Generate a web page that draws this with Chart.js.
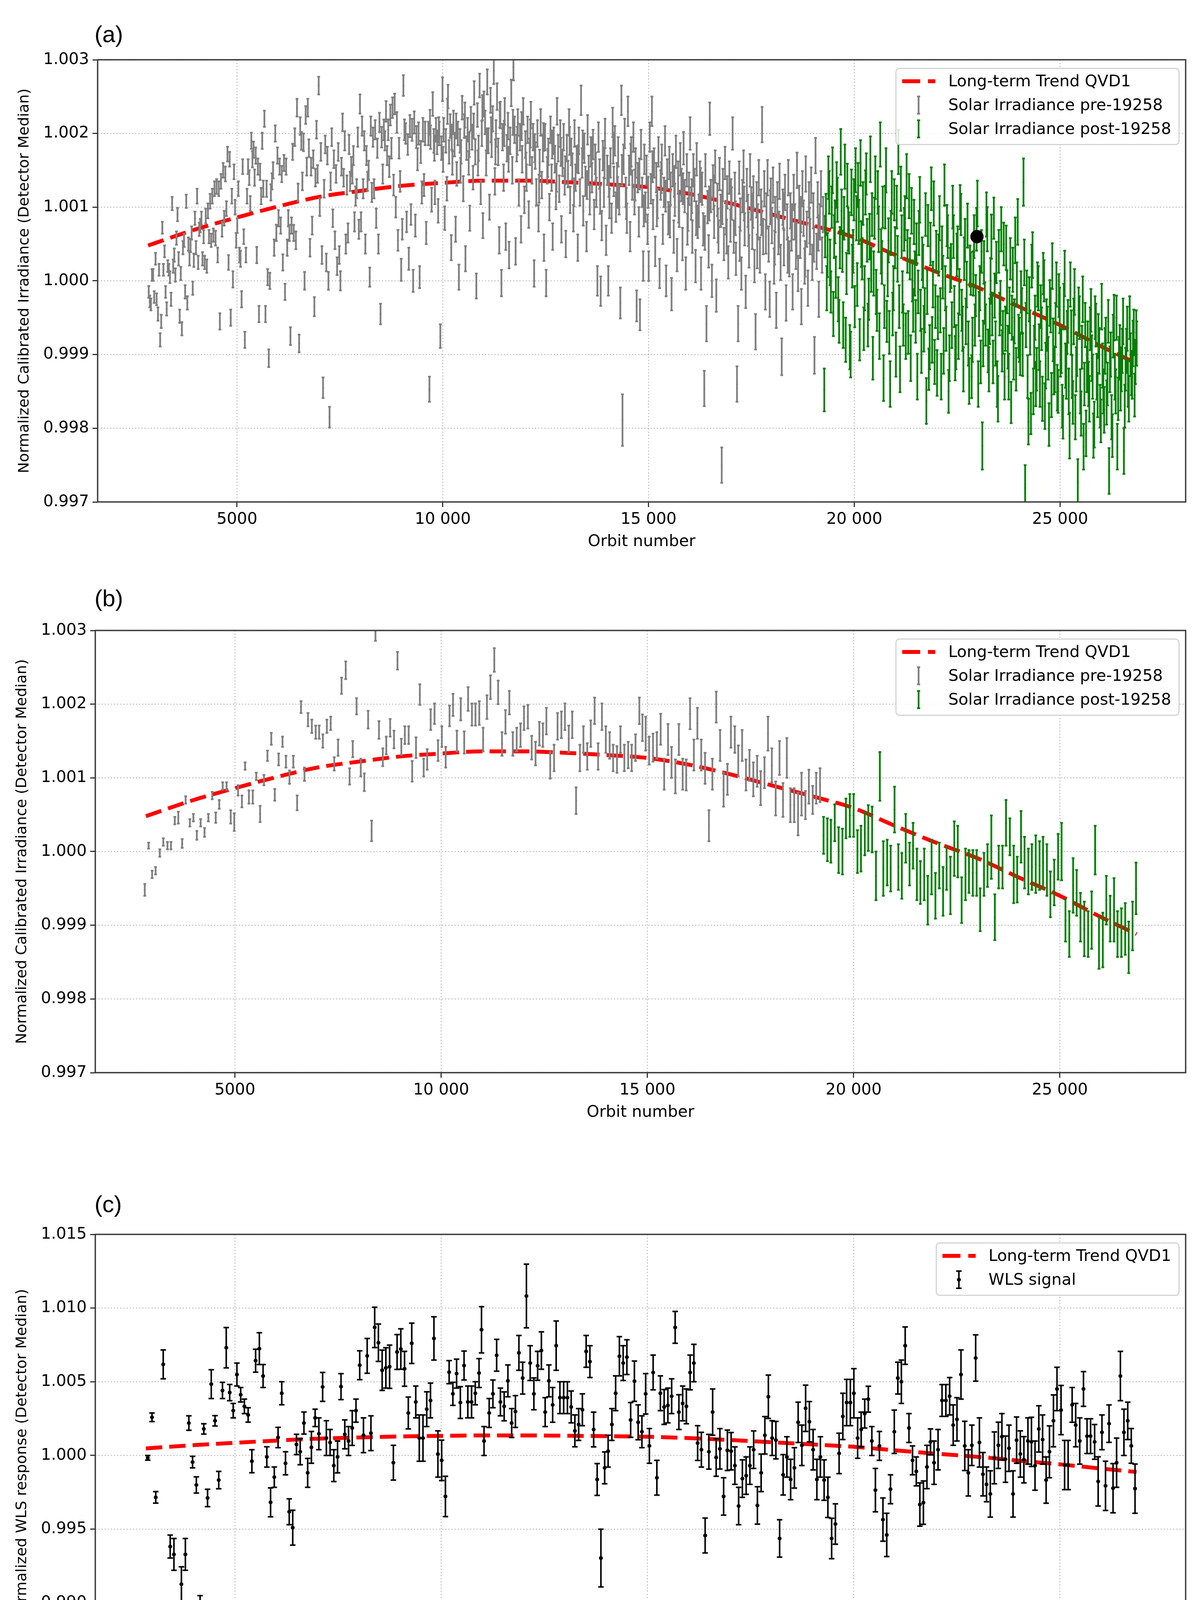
<!DOCTYPE html>
<html>
<head>
<meta charset="utf-8">
<title>QVD1 long-term trend</title>
<script src="https://cdn.jsdelivr.net/npm/chart.js@4.4.1/dist/chart.umd.min.js"></script>
<style>
  html, body { margin: 0; padding: 0; background: #fff; }
  #page { position: relative; width: 3083px; height: 4472px; overflow: hidden; background: #fff; }
  canvas { position: absolute; left: 0; }
  .tag { position: absolute; left: 242px; font-family: "Liberation Sans", Arial, sans-serif; font-size: 60px; line-height: 60px; color: #000; }
</style>
</head>
<body>
<div id="page">
  <canvas id="chartA" width="3083" height="1425" style="top:0px"></canvas>
  <canvas id="chartB" width="3083" height="1426" style="top:1460px"></canvas>
  <canvas id="chartC" width="3083" height="1422" style="top:3010px"></canvas>
  <div class="tag" style="top:58px">(a)</div>
  <div class="tag" style="top:1502px">(b)</div>
  <div class="tag" style="top:3053px">(c)</div>
</div>
<script>
// error bar half-lengths below are stored in units of 1e-5
const ERR_UNIT = 1e-5;

const xTicks = [5000, 10000, 15000, 20000, 25000];
const xTickLabels = ['5000', '10 000', '15 000', '20 000', '25 000'];
const irrTicks = [0.997, 0.998, 0.999, 1.000, 1.001, 1.002, 1.003];
const wlsTicks = [0.985, 0.990, 0.995, 1.000, 1.005, 1.010, 1.015];

// long-term trend QVD1 (same curve in all panels)
const trendX = [2840, 4000, 5000, 6000, 7000, 8000, 9000, 10000, 11000, 12000, 13000, 14000, 15000,
  16000, 17000, 18000, 19000, 20000, 21000, 22000, 23000, 24000, 25000, 26000, 26860];
const trendY = [1.00048, 1.00070, 1.00086, 1.00101, 1.00114, 1.00122, 1.00129, 1.00133, 1.00136, 1.00136, 1.00134, 1.00131, 1.00127,
  1.00118, 1.00105, 1.00090, 1.00075, 1.00059, 1.00035, 1.00012, 0.99991, 0.99965, 0.99940, 0.99911, 0.99888];

// ---- panel (a): single measurements ----
const aPreX = [
  2856,2882,2909,2935,2962,2988,3021,3047,3080,3106, 3133,3159,3186,3212,3239,3265,3292,3318,3345,3371,
  3398,3424,3450,3476,3503,3529,3555,3581,3608,3634, 3661,3687,3714,3740,3767,3793,3820,3846,3872,3898,
  3925,3951,3978,4004,4031,4057,4083,4109,4136,4162, 4189,4215,4241,4267,4294,4320,4347,4373,4400,4426,
  4453,4479,4505,4531,4558,4584,4611,4637,4664,4690, 4717,4743,4769,4795,4822,4848,4875,4901,4927,4953,
  4980,5006,5033,5059,5086,5112,5138,5164,5191,5217, 5244,5270,5297,5323,5349,5375,5402,5428,5455,5481,
  5508,5534,5561,5587,5613,5639,5666,5692,5719,5745, 5772,5798,5824,5850,5877,5903,5930,5956,5983,6009,
  6036,6062,6088,6114,6141,6167,6194,6220,6247,6273, 6299,6325,6352,6378,6405,6431,6458,6484,6510,6536,
  6563,6589,6616,6642,6669,6695,6721,6747,6774,6800, 6827,6853,6880,6906,6932,6958,6985,7011,7038,7064,
  7091,7117,7144,7170,7196,7222,7249,7275,7302,7328, 7354,7380,7407,7433,7460,7486,7513,7539,7565,7591,
  7618,7644,7671,7697,7724,7750,7777,7803,7829,7855, 7882,7908,7935,7961,7988,8014,8040,8066,8093,8119,
  8146,8172,8199,8225,8251,8277,8304,8330,8357,8383, 8410,8436,8462,8488,8515,8541,8568,8594,8621,8647,
  8674,8700,8726,8752,8779,8805,8832,8858,8885,8911, 8938,8964,8990,9016,9043,9069,9096,9122,9149,9175,
  9201,9227,9254,9280,9307,9333,9360,9386,9412,9438, 9465,9491,9518,9544,9571,9597,
  9650,9676,9703,9729,9756,9782,9809,9835,9862,9888, 9915,9941,9968,9994,10021,10047,10074,10100,10127,10153,
  10180,10206,10233,10259,10286,10312,10339,10365,10392,10418, 10445,10471,10498,10524,10551,10577,10604,10630,10657,10683,
  10710,10736,10763,10789,10816,10842,10869,10895,10922,10948, 10975,11001,11028,11054,11081,11107,11134,11160,11187,11213,
  11240,11266,11293,11319,11346,11372,11399,11425,11452,11478, 11505,11531,11558,11584,11611,11637,11664,11690,11717,11743,
  11770,11796,11823,11849,11876,11902,11929,11955,11982,12008, 12035,12061,12088,12114,12141,12167,12194,12220,12247,12273,
  12300,12326,12353,12379,12406,12432,12459,12485,12512,12538, 12565,12591,12618,12644,12671,12697,12724,12750,12777,12803,
  12830,12856,12883,12909,12936,12962,12989,13015,13042,13068, 13095,13121,13148,13174,13201,13227,13254,13280,13307,13333,
  13360,13386,13413,13439,13466,13492,13519,13545,13572,13598, 13625,13651,13678,13704,13731,13757,13784,13810,13837,13863,
  13890,13916,13943,13969,13996,14022,14049,14075,14102,14128, 14155,14181,14208,14234,14261,14287,14314,14340,14367,14393,
  14420,14446,14473,14499,14526,14552,14579,14605,14632,14658, 14685,14711,14738,14764,14791,14817,14844,14870,14897,14923,
  14950,14976,15003,15029,15056,15082,15109,15135,15162,15188, 15215,15241,15268,15294,15321,15347,15374,15400,15427,15453,
  15480,15506,15533,15559,15586,15612,15639,15665,15692,15718, 15745,15771,15798,15824,15851,15877,15904,15930,15957,15983,
  16010,16036,16063,16089,16116,16142,16169,16195,16222,16248, 16275,16301,16328,16354,16381,16407,16434,16460,16487,16513,
  16540,16566,16593,16619,16646,16672,16699,16725,16752,16778, 16805,16831,16858,16884,16911,16937,16964,16990,17017,17043,
  17070,17096,17123,17149,17176,17202,17229,17255,17282,17308, 17335,17361,17388,17414,17441,17467,17494,17520,17547,17573,
  17600,17626,17653,17679,17706,17732,17759,17785,17812,17838, 17865,17891,17918,17944,17971,17997,18024,18050,18077,18103,
  18130,18156,18183,18209,18236,18262,18289,18315,18342,18368, 18395,18421,18448,18474,18501,18527,18554,18580,18607,18633,
  18660,18686,18713,18739,18766,18792,18819,18845,18872,18898, 18925,18951,18978,19004,19031,19057,19084,19110,19137,19163,
  19190,19216,19243,
  9690,9796,9902,10008,10114,10220,10326,10432,10538,10644, 10750,10856,10962,11068,11174,11280,11386,11492,11598,11704,
  11810,11916,12022,12128,12234,12340,12446,12552,12658,12764, 12870,12976,13082,13188,13294,13400,13506,13612,13718,13824,
  13930,14036,14142,14248,14354,14460,14566,14672,14778,14884, 14990,15096,15202,15308,15414,15520,15626,15732,15838,15944,
  16050,16156,16262,16368,16474,16580,16686,16792,16898,17004, 17110,17216,17322,17428,17534,17640,17746,17852,17958,18064,
  18170,18276,18382,18488,18594,18700,18806,18912,19018,19124];
const aPreY = [
  0.99985,0.99972,0.99968,1.00008,1.00008,0.99978,1.00030,0.99975,0.99955,1.00015, 0.99920,0.99945,1.00072,1.00015,1.00040,0.99985,0.99962,1.00020,1.00015,1.00005,
  0.99975,1.00105,1.00020,1.00035,1.00008,1.00058,1.00090,1.00030,0.99952,1.00010, 0.99935,1.00045,1.00055,0.99985,1.00108,0.99970,1.00050,1.00030,1.00048,1.00065,
  0.99990,1.00028,1.00085,1.00045,1.00115,1.00025,1.00070,1.00075,1.00085,1.00030, 1.00060,1.00025,1.00088,1.00020,1.00095,1.00060,1.00108,1.00055,1.00115,1.00062,
  1.00125,1.00058,1.00128,1.00035,1.00125,0.99945,1.00135,1.00070,1.00150,1.00085, 1.00145,1.00098,1.00172,1.00025,1.00165,0.99950,1.00115,1.00002,1.00148,1.00100,
  1.00055,1.00075,1.00125,1.00035,1.00030,0.99975,1.00155,1.00060,0.99920,1.00035, 1.00115,1.00155,1.00140,1.00105,1.00190,1.00165,1.00178,1.00140,1.00170,1.00035,
  1.00155,0.99955,1.00148,1.00115,1.00190,1.00125,1.00220,0.99955,1.00125,1.00005, 0.99895,1.00000,1.00120,1.00135,1.00150,1.00045,1.00200,1.00065,1.00170,1.00085,
  1.00155,1.00075,1.00145,1.00025,1.00160,0.99985,1.00155,1.00045,1.00085,1.00065, 0.99925,1.00075,1.00175,1.00065,1.00195,1.00055,1.00235,1.00120,0.99915,1.00210,
  1.00190,1.00135,1.00188,1.00000,1.00225,1.00155,1.00235,1.00180,1.00045,1.00155, 1.00075,1.00165,0.99965,1.00140,1.00205,1.00145,1.00265,1.00100,1.00175,1.00035,
  0.99855,1.00125,1.00185,1.00025,1.00170,1.00000,0.99815,1.00135,1.00195,1.00085, 1.00165,1.00055,1.00145,1.00020,1.00175,1.00035,1.00000,1.00155,1.00215,1.00140,
  1.00190,1.00050,1.00130,1.00065,1.00185,1.00135,1.00155,1.00145,1.00170,1.00080, 1.00115,1.00125,1.00195,1.00070,1.00240,1.00080,1.00210,1.00125,1.00190,1.00050,
  1.00170,1.00135,1.00150,1.00005,1.00210,1.00120,1.00195,1.00125,1.00205,1.00085, 1.00180,1.00050,1.00215,0.99955,1.00195,1.00145,1.00205,1.00190,1.00230,1.00170,
  1.00205,1.00155,1.00225,1.00180,1.00235,1.00130,1.00240,1.00100,1.00215,1.00055, 1.00180,1.00135,1.00015,1.00070,1.00265,1.00205,1.00200,1.00080,1.00185,1.00030,
  1.00210,1.00090,1.00205,1.00000,1.00215,1.00075,1.00195,1.00165,1.00200,1.00005, 1.00175,1.00120,1.00205,1.00130,1.00200,1.00065,
  1.00200,0.99853,1.00195,1.00110,1.00240,1.00190,1.00120,1.00205,1.00188,1.00095, 1.00200,0.99925,1.00180,1.00260,1.00205,1.00085,1.00190,1.00125,1.00250,1.00175,
  1.00210,1.00045,1.00160,1.00215,1.00185,1.00070,1.00145,1.00200,1.00005,1.00190, 1.00175,1.00235,1.00125,1.00210,1.00030,1.00180,1.00205,1.00160,1.00085,1.00220,
  1.00195,1.00140,1.00255,1.00175,0.99993,1.00225,1.00180,1.00265,1.00120,1.00200, 1.00075,1.00240,1.00215,1.00160,1.00270,1.00190,1.00100,1.00245,1.00185,1.00220,
  1.00285,1.00135,1.00200,1.00250,1.00175,1.00055,1.00225,0.99997,1.00195,1.00140, 1.00230,1.00060,1.00180,1.00210,1.00035,1.00190,1.00255,1.00150,1.00290,1.00205,
  1.00040,1.00180,1.00215,1.00120,1.00195,1.00070,1.00165,1.00230,1.00110,1.00185, 1.00140,1.00205,1.00090,1.00175,1.00225,1.00150,1.00195,1.00010,1.00170,1.00120,
  1.00200,1.00085,1.00160,1.00215,1.00130,1.00180,1.00045,1.00195,0.99997,1.00150, 1.00175,1.00100,1.00205,1.00140,1.00060,1.00190,1.00165,1.00115,1.00230,1.00180,
  1.00125,1.00200,1.00070,1.00160,1.00195,1.00135,1.00050,1.00180,1.00145,1.00215, 1.00110,1.00175,1.00155,1.00085,1.00200,1.00140,1.00165,1.00045,1.00190,1.00120,
  1.00245,1.00160,1.00095,1.00180,1.00135,1.00060,1.00205,1.00150,1.00110,1.00175, 1.00140,1.00185,1.00090,1.00165,1.00120,1.00000,1.00195,1.00145,0.99986,1.00075,
  1.00170,1.00120,1.00200,1.00055,1.00150,1.00000,1.00105,1.00160,1.00085,1.00215, 1.00135,1.00190,1.00100,1.00140,1.00175,1.00110,0.99970,1.00245,0.99811,1.00165,
  1.00200,1.00120,1.00085,1.00230,1.00150,1.00060,1.00175,1.00130,1.00195,1.00110, 1.00160,0.99966,1.00140,1.00080,0.99954,1.00185,1.00120,1.00020,1.00165,1.00100,
  1.00150,1.00070,1.00020,1.00195,1.00125,1.00230,1.00090,1.00160,1.00040,1.00140, 1.00105,1.00175,1.00010,1.00130,1.00165,1.00070,1.00120,1.00190,1.00000,1.00145,
  1.00085,1.00160,1.00125,0.99982,1.00150,1.00060,1.00110,1.00175,1.00035,1.00140, 1.00095,1.00165,1.00130,1.00050,1.00180,1.00115,1.00010,1.00150,1.00090,1.00125,
  1.00200,1.00105,1.00060,1.00150,1.00130,1.00020,1.00165,1.00080,1.00095,1.00140, 1.00010,1.00125,1.00070,0.99854,1.00150,0.99942,1.00100,1.00040,1.00220,1.00115,
  1.00000,1.00135,1.00080,1.00155,0.99980,1.00110,1.00060,1.00145,1.00095,0.99750, 1.00130,1.00050,1.00160,1.00085,1.00120,1.00025,1.00140,1.00075,1.00105,1.00200,
  1.00060,1.00125,1.00030,0.99860,0.99942,1.00140,1.00090,1.00010,1.00115,1.00155, 1.00070,0.99985,1.00130,1.00095,1.00040,1.00150,1.00105,1.00065,1.00120,1.00020,
  0.99931,1.00110,1.00080,1.00140,1.00035,1.00100,1.00212,1.00060,1.00125,0.99985, 1.00095,1.00140,1.00050,0.99975,1.00115,1.00075,1.00130,1.00020,1.00090,0.99960,
  1.00110,1.00060,1.00135,1.00025,0.99897,1.00100,1.00045,1.00120,0.99970,1.00080, 1.00140,1.00030,1.00095,1.00065,0.99985,1.00120,1.00080,1.00040,1.00150,1.00010,
  1.00105,1.00055,0.99965,1.00125,1.00085,1.00020,1.00145,1.00070,0.99990,1.00110, 1.00060,1.00130,1.00025,1.00095,0.99899,1.00170,1.00040,1.00110,0.99975,1.00080,
  1.00125,1.00035,1.00090,
  1.00215,1.00180,1.00205,1.00165,1.00230,1.00195,1.00210,1.00150,1.00225,1.00185, 1.00210,1.00160,1.00235,1.00190,1.00205,1.00175,1.00225,1.00200,1.00165,1.00215,
  1.00190,1.00210,1.00155,1.00200,1.00180,1.00125,1.00195,1.00160,1.00185,1.00140, 1.00175,1.00150,1.00190,1.00120,1.00165,1.00185,1.00130,1.00175,1.00155,1.00110,
  1.00160,1.00135,1.00180,1.00120,1.00150,1.00105,1.00165,1.00130,1.00145,1.00095, 1.00120,1.00155,1.00095,1.00140,1.00115,1.00080,1.00135,1.00100,1.00125,1.00070,
  1.00115,1.00085,1.00130,1.00065,1.00105,1.00120,1.00075,1.00100,1.00060,1.00115, 1.00085,1.00050,1.00105,1.00070,1.00095,1.00040,1.00085,1.00060,1.00100,1.00045,
  1.00070,1.00095,1.00035,1.00080,1.00055,1.00090,1.00030,1.00075,1.00050,1.00065];
const aPreE = [
  8,8,8,8,8,8,8,8,9,8, 9,9,8,8,8,8,9,8,8,8, 9,9,9,9,9,9,9,9,9,9, 9,9,9,9,9,9,9,9,9,9,
  9,9,9,9,10,9,9,9,9,9, 9,9,10,9,10,9,10,9,10,9, 10,10,10,10,10,11,10,10,10,10, 10,10,10,10,10,11,10,11,10,10,
  10,10,10,10,11,11,10,10,11,10, 10,10,10,10,11,11,11,11,11,11, 11,11,11,11,11,11,11,11,11,11, 12,11,11,11,11,11,11,11,11,11,
  11,11,11,11,11,11,11,11,11,11, 12,11,11,11,12,12,12,12,12,12, 12,12,12,12,12,12,12,12,12,12, 12,12,13,12,12,12,12,12,12,12,
  14,12,12,12,12,12,14,12,12,12, 12,12,12,12,12,12,13,12,12,12, 13,13,13,13,13,13,13,13,13,13, 13,13,13,13,13,13,13,13,13,13,
  13,13,13,13,13,13,13,13,13,13, 13,13,13,14,14,13,14,13,14,13, 14,14,14,14,14,14,14,14,14,14, 14,14,15,14,14,14,14,14,14,15,
  15,14,15,15,15,15,15,15,15,15, 15,15,16,15,16,15,
  16,17,16,16,16,16,16,16,16,16, 16,16,16,16,16,16,16,16,16,16, 16,17,16,16,16,17,16,16,17,16, 16,16,17,16,17,16,16,16,17,16,
  17,16,16,17,17,16,17,16,16,17, 17,17,16,17,17,17,17,17,17,17, 18,18,18,18,18,18,18,18,18,18, 18,18,18,18,18,18,18,18,18,18,
  18,18,18,18,18,18,18,18,18,18, 18,18,18,18,18,18,18,18,18,18, 18,18,18,18,18,18,18,18,18,18, 18,18,18,18,18,18,18,18,18,18,
  18,18,18,18,18,18,18,18,18,18, 18,18,18,18,18,18,18,18,18,18, 20,20,20,20,20,20,20,20,20,20, 20,20,20,20,20,20,20,20,20,20,
  20,20,20,20,20,20,20,20,20,20, 20,20,20,20,20,20,21,20,35,20, 20,20,20,20,20,20,20,20,20,20, 20,21,20,20,21,20,20,20,20,20,
  20,20,20,20,20,20,20,20,20,20, 20,20,20,20,20,20,20,20,21,20, 22,22,22,22,22,22,22,22,22,22, 22,22,22,22,22,22,22,22,22,22,
  22,22,22,22,22,22,22,22,22,22, 22,22,22,24,22,24,22,22,22,22, 22,22,22,22,22,22,22,22,22,24, 22,22,22,22,22,22,22,22,22,22,
  22,22,22,24,24,22,22,22,22,22, 22,22,22,22,22,22,22,22,22,22, 24,24,24,24,24,24,24,24,24,24, 24,24,24,24,24,24,24,24,24,24,
  24,24,24,24,25,24,24,24,24,24, 24,24,24,24,24,24,24,24,24,24, 24,24,24,24,24,24,24,24,24,24, 24,24,24,24,25,24,24,24,24,24,
  24,24,24,
  17,17,17,17,17,17,17,17,17,17, 17,17,17,17,17,17,17,17,17,17, 19,19,19,19,19,19,19,19,19,19, 19,19,19,19,19,19,19,19,19,19,
  21,21,21,21,21,21,21,21,21,21, 21,21,21,21,21,21,21,21,21,21, 23,23,23,23,23,23,23,23,23,23, 23,23,23,23,23,23,23,23,23,23,
  24,24,24,24,24,24,24,24,24,24];

const aPostX = [
  19270,19310,19350,19390,19430,19470,19510,19550,19590,19630, 19670,19710,19750,19790,19830,19870,19910,19950,19990,20030,
  20070,20110,20150,20190,20230,20270,20310,20350,20390,20430, 20470,20510,20550,20590,20630,20670,20710,20750,20790,20830,
  20870,20910,20950,20990,21030,21070,21110,21150,21190,21230, 21270,21310,21350,21390,21430,21470,21510,21550,21590,21630,
  21670,21710,21750,21790,21830,21870,21910,21950,21990,22030, 22070,22110,22150,22190,22230,22270,22310,22350,22390,22430,
  22470,22510,22550,22590,22630,22670,22710,22750,22790,22830, 22870,22910,22950,22990,23030,23070,23110,23150,23190,23230,
  23270,23310,23350,23390,23430,23470,23510,23550,23590,23630, 23670,23710,23750,23790,23830,23870,23910,23950,23990,24030,
  24070,24110,24150,24190,24230,24270,24310,24350,24390,24430, 24470,24510,24550,24590,24630,24670,24710,24750,24790,24830,
  24870,24910,24950,24990,25030,25070,25110,25150,25190,25230, 25270,25310,25350,25390,25430,25470,25510,25550,25590,25630,
  25670,25710,25750,25790,25830,25870,25910,25950,25990,26030, 26070,26110,26150,26190,26230,26270,26310,26350,26390,26430,
  26470,26510,26550,26590,26630,26670,26710,26750,26790,26830, 26860,
  19290,19330,19370,19410,19450,19490,19530,19570,19610,19650, 19690,19730,19770,19810,19850,19890,19930,19970,20010,20050,
  20090,20130,20170,20210,20250,20290,20330,20370,20410,20450, 20490,20530,20570,20610,20650,20690,20730,20770,20810,20850,
  20890,20930,20970,21010,21050,21090,21130,21170,21210,21250, 21290,21330,21370,21410,21450,21490,21530,21570,21610,21650,
  21690,21730,21770,21810,21850,21890,21930,21970,22010,22050, 22090,22130,22170,22210,22250,22290,22330,22370,22410,22450,
  22490,22530,22570,22610,22650,22690,22730,22770,22810,22850, 22890,22930,22970,23010,23050,23090,23130,23170,23210,23250,
  23290,23330,23370,23410,23450,23490,23530,23570,23610,23650, 23690,23730,23770,23810,23850,23890,23930,23970,24010,24050,
  24090,24130,24170,24210,24250,24290,24330,24370,24410,24450, 24490,24530,24570,24610,24650,24690,24730,24770,24810,24850,
  24890,24930,24970,25010,25050,25090,25130,25170,25210,25250, 25290,25330,25370,25410,25450,25490,25530,25570,25610,25650,
  25690,25730,25770,25810,25850,25890,25930,25970,26010,26050, 26090,26130,26170,26210,26250,26290,26330,26370,26410,26450,
  26490,26530,26570,26610,26650,26690,26730,26770,26810,26850];
const aPostY = [
  0.99852,1.00090,1.00035,1.00120,0.99985,1.00150,1.00060,1.00005,1.00110,0.99945, 1.00175,1.00040,1.00085,0.99920,1.00130,1.00065,0.99900,1.00020,1.00110,1.00150,
  0.99995,1.00080,1.00160,1.00030,0.99935,1.00120,1.00055,0.99975,1.00165,1.00090, 1.00010,1.00140,0.99960,1.00070,1.00185,1.00025,0.99868,1.00100,0.99945,1.00055,
  0.99860,1.00120,0.99990,1.00045,1.00100,1.00175,0.99880,1.00060,0.99940,1.00085, 1.00142,0.99930,1.00030,1.00095,0.99960,1.00010,1.00050,0.99985,1.00110,0.99905,
  1.00020,0.99960,0.99837,1.00075,0.99910,1.00125,0.99995,0.99890,1.00040,0.99950, 1.00085,0.99870,1.00005,1.00130,0.99935,1.00060,0.99895,1.00020,1.00100,0.99965,
  0.99910,1.00045,0.99985,1.00090,0.99935,1.00030,0.99945,1.00075,0.99864,1.00010, 0.99920,1.00060,0.99980,1.00105,0.99955,0.99890,0.99776,1.00025,0.99940,1.00070,
  0.99880,1.00000,0.99955,1.00085,0.99915,0.99860,1.00040,0.99970,0.99905,1.00050, 0.99935,0.99985,0.99870,1.00030,0.99950,0.99895,1.00055,0.99995,0.99925,0.99900,
  0.99960,1.00134,0.99719,0.99985,0.99809,0.99930,1.00020,0.99850,0.99950,0.99880, 0.99990,0.99860,0.99935,1.00010,0.99830,0.99945,0.99895,0.99970,0.99845,0.99920,
  0.99880,0.99995,0.99850,0.99960,0.99905,0.99815,1.00010,0.99870,0.99945,0.99790, 0.99930,0.99835,0.99985,0.99880,0.99727,0.99950,0.99820,0.99975,0.99860,0.99793,
  0.99915,0.99840,0.99960,0.99870,0.99805,0.99940,0.99845,0.99905,0.99810,0.99885, 0.99825,0.99920,0.99860,0.99742,0.99900,0.99790,0.99950,0.99850,0.99775,0.99895,
  0.99855,0.99905,0.99769,0.99880,0.99935,0.99840,0.99900,0.99870,0.99930,0.99890, 0.99915,
  1.00060,0.99990,1.00140,1.00025,1.00100,0.99955,1.00080,1.00130,0.99975,1.00045, 1.00095,0.99940,1.00155,1.00010,1.00070,0.99910,1.00120,1.00040,0.99965,1.00085,
  1.00130,0.99920,1.00050,1.00105,0.99990,1.00145,0.99940,1.00060,1.00015,0.99895, 1.00085,0.99985,1.00120,0.99925,1.00040,1.00100,0.99965,1.00150,1.00010,0.99930,
  1.00065,0.99955,1.00110,0.99900,1.00030,0.99965,1.00125,0.99985,1.00070,0.99925, 1.00040,1.00115,0.99895,1.00000,1.00080,0.99945,0.99870,1.00065,0.99960,1.00030,
  0.99935,1.00090,0.99985,0.99880,1.00050,0.99920,1.00105,0.99965,0.99875,1.00035, 0.99960,1.00045,0.99905,0.99990,1.00075,0.99850,1.00015,0.99940,1.00060,0.99895,
  1.00035,0.99925,1.00100,0.99960,0.99880,1.00055,0.99995,0.99915,1.00020,0.99870, 1.00010,0.99940,1.00070,0.99860,0.99990,1.00040,0.99915,0.99970,1.00090,0.99905,
  0.99945,1.00060,0.99890,0.99980,1.00025,0.99840,0.99955,1.00070,0.99930,0.99870, 1.00045,0.99910,0.99960,0.99835,1.00015,0.99945,0.99880,1.00080,0.99920,0.99985,
  0.99900,1.00025,0.99940,0.99870,0.99975,0.99820,1.00035,0.99910,0.99860,0.99995, 0.99910,0.99965,0.99840,1.00000,0.99885,0.99935,0.99805,0.99960,1.00020,0.99875,
  0.99940,0.99855,0.99980,0.99900,0.99830,0.99965,0.99885,0.99930,0.99850,0.99995, 0.99870,0.99945,0.99815,0.99900,0.99960,0.99850,0.99910,0.99775,0.99940,0.99880,
  0.99860,0.99935,0.99895,0.99790,0.99950,0.99870,0.99925,0.99830,0.99965,0.99850, 0.99905,0.99835,0.99945,0.99880,0.99815,0.99925,0.99870,0.99950,0.99840,0.99910,
  0.99880,0.99945,0.99830,0.99905,0.99860,0.99950,0.99875,0.99915,0.99845,0.99930];
const aPostE = [
  29,28,30,29,28,31,29,28,30,29, 31,28,29,30,29,28,31,29,28,30,
  29,30,31,28,29,30,29,28,31,29, 30,29,28,31,30,29,31,29,28,30,
  31,29,30,28,29,30,31,29,28,30, 30,29,28,31,29,30,28,29,31,30,
  29,30,31,28,30,29,31,30,28,29, 30,31,29,28,30,29,31,30,29,28,
  30,29,31,28,30,29,31,30,31,29, 30,29,28,31,30,29,32,29,28,30,
  30,31,29,28,30,31,29,30,28,29, 30,29,31,28,30,29,31,30,29,28,
  30,32,31,29,31,30,29,31,30,29, 30,31,29,28,31,30,29,31,30,29,
  31,30,29,31,30,29,31,30,29,31, 30,29,31,30,31,29,30,31,29,31,
  30,31,29,30,31,29,30,31,29,30, 31,30,29,31,30,29,31,30,31,29,
  31,30,31,29,30,31,29,30,31,30, 30,
  28,30,29,31,28,30,29,31,30,28, 29,31,30,28,29,30,31,29,28,30,
  30,28,31,29,30,28,29,31,30,29, 28,30,29,31,30,28,29,30,31,29,
  30,29,28,30,31,29,30,28,29,31, 29,30,31,28,30,29,31,30,28,29,
  31,29,30,28,29,31,30,29,31,28, 30,29,31,30,28,29,30,31,29,30,
  29,31,30,28,30,29,31,30,28,29, 30,28,29,31,30,29,31,28,30,29,
  31,30,29,30,28,31,29,30,29,31, 30,29,31,28,30,30,29,31,30,28,
  29,31,30,29,30,28,31,29,30,30, 31,29,30,28,31,30,29,30,31,29,
  30,31,29,30,29,31,30,29,31,30, 29,31,30,29,31,30,29,31,30,31,
  30,29,31,30,29,31,30,29,31,30, 31,30,29,31,30,29,31,30,29,30,
  30,31,29,30,31,29,30,31,29,30];

const aMarkX = [22980];
const aMarkY = [1.00060];

// ---- panel (b): averaged measurements ----
const bPreX = [
  2814,2907,2992,3076,3178,3263,3364,3449,3542,3627, 3720,3805,3907,3992,4076,4169,4263,4356,4449,4534,
  4619,4703,4797,4898,4983,5076,5169,5246,5339,5432, 5517,5610,5703,5788,5881,5966,6059,6153,6237,6322,
  6415,6508,6602,6686,6771,6864,6958,7042,7131,7229, 7322,7407,7500,7585,7686,7780,7856,7949,8051,8136,
  8229,8314,8407,8492,8585,8669,8763,8856,8941,9034, 9119,9212,9297,9390,9483,9576,9661,9746,9839,9924,
  10017,10110,10203,10288,10381,10475,10559,10653,10746,10831, 10924,11017,11110,11195,11288,11381,11475,11559,11653,11737,
  11831,11924,12008,12102,12195,12288,12381,12466,12551,12644, 12737,12822,12915,13000,13093,13178,13271,13364,13449,13542,
  13627,13720,13805,13898,13992,14085,14169,14263,14347,14441, 14534,14619,14712,14805,14880,14958,15042,15136,15229,15322,
  15407,15500,15585,15678,15763,15856,15941,16034,16127,16212, 16305,16398,16492,16576,16669,16763,16847,16941,17025,17119,
  17203,17297,17390,17475,17568,17661,17746,17839,17924,18017, 18110,18203,18288,18381,18466,18559,18653,18737,18831,18915,
  19008,19093,19186];
const bPreY = [
  0.99948,1.00008,0.99969,0.99974,0.99998,1.00013,1.00008,1.00008,1.00042,1.00046, 1.00011,1.00070,1.00039,1.00046,1.00022,1.00039,1.00026,1.00046,1.00076,1.00046,
  1.00064,1.00089,1.00089,1.00047,1.00040,1.00083,1.00068,1.00116,1.00074,1.00074, 1.00102,1.00051,1.00097,1.00130,1.00153,1.00077,1.00125,1.00149,1.00122,1.00101,
  1.00122,1.00066,1.00196,1.00105,1.00179,1.00170,1.00162,1.00162,1.00150,1.00170, 1.00174,1.00119,1.00141,1.00225,1.00246,1.00102,1.00139,1.00197,1.00114,1.00094,
  1.00179,1.00028,1.00298,1.00165,1.00128,1.00144,1.00168,1.00152,1.00259,1.00142, 1.00158,1.00158,1.00109,1.00141,1.00213,1.00114,1.00125,1.00179,1.00187,1.00137,
  1.00156,1.00128,1.00184,1.00199,1.00150,1.00193,1.00148,1.00207,1.00186,1.00186, 1.00188,1.00152,1.00196,1.00223,1.00260,1.00216,1.00146,1.00176,1.00202,1.00146,
  1.00152,1.00158,1.00181,1.00183,1.00141,1.00133,1.00160,1.00158,1.00177,1.00117, 1.00127,1.00170,1.00172,1.00183,1.00153,1.00172,1.00069,1.00127,1.00152,1.00129,
  1.00160,1.00191,1.00129,1.00183,1.00152,1.00144,1.00127,1.00125,1.00152,1.00127, 1.00131,1.00127,1.00141,1.00191,1.00168,1.00160,1.00137,1.00141,1.00144,1.00166,
  1.00105,1.00152,1.00121,1.00102,1.00152,1.00105,1.00104,1.00187,1.00131,1.00174, 1.00131,1.00113,1.00035,1.00105,1.00196,1.00144,1.00084,1.00098,1.00162,1.00152,
  1.00123,1.00144,1.00104,1.00117,1.00098,1.00109,1.00086,1.00107,1.00160,1.00117, 1.00072,1.00127,1.00070,1.00127,1.00063,1.00063,1.00051,1.00078,1.00063,1.00088,
  1.00070,1.00086,1.00090];
const bPreE = [
  8,4,5,5,5,5,5,5,5,8, 6,5,5,5,6,5,6,5,5,7,
  6,5,5,9,12,7,8,5,9,9, 5,11,7,7,8,8,8,7,8,9,
  8,10,8,9,9,9,9,9,9,9, 9,9,11,11,12,11,11,11,12,12,
  12,14,12,12,12,12,12,12,12,11, 12,12,14,14,14,12,14,14,14,14,
  14,14,14,15,14,15,15,16,15,15, 16,16,16,16,16,16,16,16,16,16,
  16,16,16,16,16,16,16,16,18,18, 18,18,18,18,18,18,18,18,18,18,
  18,18,18,18,18,18,18,18,18,18, 18,18,18,18,18,23,19,19,18,21,
  21,21,21,23,21,21,21,21,21,21, 21,21,21,21,21,21,23,21,21,18,
  21,21,21,21,23,21,23,21,23,23, 23,23,23,27,23,23,29,29,19,23,
  19,21,23];

const bPostX = [
  19271,19364,19449,19542,19636,19729,19814,19907,20000,20093, 20178,20271,20356,20449,20542,20636,20720,20814,20898,20992,
  21085,21169,21263,21356,21441,21534,21619,21712,21797,21890, 21983,22076,22169,22254,22347,22441,22525,22619,22712,22797,
  22890,22983,23068,23161,23246,23339,23424,23517,23610,23695, 23788,23881,23966,24059,24144,24237,24322,24415,24508,24593,
  24686,24771,24864,24958,25042,25136,25229,25322,25407,25500, 25593,25686,25771,25856,25949,26042,26127,26220,26314,26398,
  26492,26585,26669,26763,26847];
const bPostY = [
  1.00022,1.00016,1.00014,1.00039,1.00002,1.00000,1.00045,1.00049,1.00049,1.00000, 1.00004,1.00024,1.00032,1.00030,0.99967,1.00102,0.99977,0.99985,0.99977,1.00057,
  0.99979,0.99967,1.00018,0.99983,1.00008,0.99969,0.99958,0.99969,0.99934,0.99979, 0.99940,0.99981,0.99946,0.99977,0.99954,1.00004,1.00000,0.99934,0.99969,0.99973,
  0.99971,0.99971,0.99921,0.99969,0.99981,1.00006,0.99911,0.99979,0.99979,1.00039, 1.00020,0.99969,0.99962,1.00020,0.99985,0.99973,0.99979,0.99983,0.99981,0.99985,
  0.99975,0.99942,0.99958,0.99993,1.00000,0.99907,0.99888,0.99954,0.99944,0.99911, 0.99895,0.99888,0.99907,1.00002,0.99876,0.99880,0.99934,0.99909,0.99921,0.99888,
  0.99890,0.99895,0.99870,0.99899,0.99950];
const bPostE = [
  25,29,29,25,31,31,27,29,29,29, 31,29,31,31,33,33,37,31,31,31,
  31,31,33,29,31,35,29,35,33,37, 31,31,33,29,39,37,35,31,35,29,
  31,31,29,29,29,43,31,29,29,31, 25,39,31,35,35,31,31,39,33,35,
  35,31,31,31,39,29,31,37,31,33, 37,31,39,33,35,37,33,31,43,31,
  33,35,35,33,35];

// ---- panel (c): WLS signal ----
const wlsX = [
  2886,2989,3080,3261,3430,3521,3702,3798,3883,3973, 4064,4155,4245,4336,4426,4517,4607,4698,4789,4873,
  4958,5048,5139,5229,5320,5411,5501,5592,5682,5773, 5864,5954,6045,6135,6226,6316,6401,6492,6582,6673,
  6763,6854,6944,7035,7126,7216,7307,7397,7488,7572, 7663,7754,7844,7935,8025,8116,8206,8297,8388,8478,
  8569,8659,8750,8841,8931,9022,9112,9203,9287,9384, 9469,9559,9650,9741,9825,9921,10012,10103,10193,10284,
  10374,10465,10555,10646,10737,10827,10918,10978,11039,11164, 11255,11345,11436,11527,11618,11709,11800,11885,11976,12067,
  12158,12248,12339,12430,12521,12612,12703,12788,12879,12970, 13061,13152,13242,13333,13424,13515,13606,13697,13782,13873,
  13964,14048,14139,14230,14321,14412,14503,14594,14685,14776, 14867,14958,15048,15139,15230,15315,15406,15497,15588,15673,
  15764,15855,15945,16036,16127,16218,16309,16400,16491,16582, 16667,16758,16848,16939,17030,17121,17212,17303,17394,17485,
  17576,17667,17758,17848,17933,18024,18115,18206,18291,18382, 18473,18564,18655,18745,18836,18927,19018,19109,19194,19285,
  19376,19467,19558,19648,19739,19830,19921,20006,20097,20183, 20269,20356,20442,20528,20625,20711,20803,20894,20986,21072,
  21158,21250,21342,21428,21519,21606,21692,21778,21864,21950, 22047,22144,22236,22328,22414,22506,22603,22695,22781,22867,
  22959,23050,23136,23222,23314,23412,23509,23595,23681,23767, 23865,23951,24042,24128,24226,24312,24398,24490,24582,24667,
  24748,24845,24931,25029,25115,25201,25298,25384,25482,25573, 25659,25745,25843,25929,26021,26107,26193,26290,26376,26468,
  26554,26646,26732,26823];
const wlsY = [
  0.99984,1.00259,0.99716,1.00618,0.99382,0.99329,0.99127,0.99329,1.00220,0.99955, 0.99800,0.98882,1.00180,0.99712,1.00484,1.00235,0.99833,1.00441,1.00731,1.00427,
  1.00304,1.00549,1.00412,1.00333,1.00275,0.99961,1.00643,1.00725,1.00539,0.99990, 0.99682,0.99853,1.00122,1.00422,0.99947,0.99618,0.99510,1.00075,1.00025,1.00220,
  0.99882,1.00055,1.00255,1.00147,1.00465,1.00118,1.00088,0.99931,0.99990,1.00467, 1.00143,1.00098,1.00186,1.00304,1.00612,1.00137,1.00676,1.00151,1.00869,1.00765,
  1.00578,1.00594,1.00602,0.99951,1.00702,1.00722,1.00588,1.00288,1.00761,1.00363, 1.00118,1.00118,1.00314,1.00373,1.00794,1.00010,0.99967,0.99722,1.00565,1.00418,
  1.00555,1.00359,1.00610,1.00363,1.00363,1.00422,1.00559,1.00853,1.00098,1.00288, 1.00418,1.00680,1.00363,1.00333,1.00506,1.00220,1.00298,1.00696,1.00525,1.01082,
  1.00627,1.00418,1.00608,1.00712,1.00294,1.00506,1.00343,1.00745,1.00392,1.00392, 1.00392,1.00329,1.00167,1.00210,1.00310,1.00706,1.00637,1.00176,0.99837,0.99304,
  0.99916,1.00029,1.00210,1.00422,1.00673,1.00627,1.00667,1.00241,1.00504,1.00225, 1.00161,1.00418,1.00065,1.00563,0.99849,1.00422,1.00329,1.00339,1.00402,1.00869,
  1.00294,1.00353,1.00333,1.00563,1.00627,1.00084,1.00039,0.99457,1.00025,1.00294, 0.99986,1.00045,0.99722,1.00035,1.00029,0.99931,0.99657,0.99843,0.99863,0.99931,
  1.00039,0.99661,0.99882,1.00137,1.00398,1.00118,1.00104,0.99437,0.99869,0.99990, 0.99837,0.99916,1.00225,1.00069,1.00320,1.00229,1.00039,0.99837,0.99990,0.99833,
  0.99716,0.99437,0.99535,1.00014,1.00265,1.00359,1.00359,1.00422,1.00118,1.00176, 1.00284,1.00382,1.00098,0.99765,1.00065,0.99565,0.99461,0.99771,1.00161,1.00525,
  1.00500,1.00745,1.00186,0.99967,0.99892,0.99667,0.99680,0.99922,1.00092,0.99951, 1.00039,1.00373,1.00373,1.00402,1.00206,1.00245,1.00549,1.00065,0.99882,1.00069,
  1.00661,1.00088,0.99873,0.99804,0.99739,0.99984,1.00069,1.00127,0.99975,1.00049, 0.99739,1.00104,1.00010,0.99971,1.00098,1.00092,0.99931,1.00180,1.00108,0.99833,
  1.00025,1.00235,1.00451,1.00308,0.99935,0.99935,1.00343,1.00206,1.00098,1.00451, 1.00131,1.00131,1.00092,0.99824,1.00157,0.99794,1.00216,0.99778,0.99951,1.00539,
  1.00157,1.00235,1.00065,0.99775];
const wlsE = [
  16,29,39,98,78,108,118,108,49,39, 55,167,35,59,98,35,59,55,137,55,
  49,78,49,49,49,78,78,108,78,69, 98,69,69,78,78,88,118,69,88,75,
  98,108,59,108,98,118,88,108,108,88, 98,98,118,78,98,118,118,118,137,127,
  137,137,147,118,118,137,118,108,137,108, 157,157,118,118,147,157,137,137,78,78,
  98,108,98,108,108,78,98,157,98,98, 94,108,94,98,108,98,108,118,108,216,
  118,108,98,127,98,108,118,167,108,108, 108,108,108,108,108,108,108,118,108,196,
  108,108,108,118,133,118,118,118,137,118, 108,137,118,118,118,118,118,118,118,108,
  118,118,118,118,127,118,118,118,118,157, 127,137,127,137,127,127,127,127,127,127,
  127,127,127,127,147,118,127,127,137,137, 137,137,137,137,157,137,137,137,137,137,
  137,137,137,137,157,157,157,167,137,118, 98,88,98,147,98,147,147,98,147,108,
  147,127,98,98,98,147,147,147,88,147, 137,108,108,127,137,147,167,167,157,137,
  157,167,147,118,157,176,157,157,157,157, 157,157,157,157,157,167,167,157,167,157,
  176,176,147,167,167,167,118,147,157,118, 118,118,118,167,118,167,127,167,167,167,
  157,127,118,167];

// axis range (orbit number) shared by the three panels
const X_MIN = 1614, X_MAX = 28050;

Chart.defaults.font.family = '"DejaVu Sans", sans-serif';
Chart.defaults.color = '#000';

const pts = (xs, ys) => xs.map((x, i) => ({ x: x, y: ys[i] }));

// dotted grid under the data, axes box on top of it
const gridFrame = {
  id: 'gridFrame',
  beforeDatasetsDraw(chart) {
    const { ctx, chartArea: a, scales: { x, y } } = chart;
    ctx.save();
    ctx.strokeStyle = '#bdbdbd';
    ctx.lineWidth = 2.5;
    ctx.setLineDash([3, 5]);
    ctx.beginPath();
    x.ticks.forEach(t => {
      const p = x.getPixelForValue(t.value);
      ctx.moveTo(p, a.top); ctx.lineTo(p, a.bottom);
    });
    y.ticks.forEach(t => {
      const p = y.getPixelForValue(t.value);
      ctx.moveTo(a.left, p); ctx.lineTo(a.right, p);
    });
    ctx.stroke();
    ctx.restore();
  },
  afterDatasetsDraw(chart) {
    const { ctx, chartArea: a } = chart;
    ctx.save();
    ctx.strokeStyle = '#3c3c3c';
    ctx.lineWidth = 3.5;
    ctx.strokeRect(a.left, a.top, a.right - a.left, a.bottom - a.top);
    ctx.restore();
  }
};

// vertical error bars drawn right after their own dataset
const errorBars = {
  id: 'errorBars',
  afterDatasetDraw(chart, args) {
    const ds = chart.data.datasets[args.index];
    if (!ds.errors) return;
    const { ctx, chartArea: a, scales: { x, y } } = chart;
    ctx.save();
    ctx.beginPath();
    ctx.rect(a.left, a.top, a.right - a.left, a.bottom - a.top);
    ctx.clip();
    ctx.strokeStyle = ds.barColor;
    ctx.lineWidth = ds.barWidth;
    ctx.beginPath();
    ds.data.forEach((p, i) => {
      const e = ds.errors[i] * ERR_UNIT;
      const px = x.getPixelForValue(p.x);
      const top = y.getPixelForValue(p.y + e);
      const bot = y.getPixelForValue(p.y - e);
      ctx.moveTo(px, top); ctx.lineTo(px, bot);
      if (ds.cap) {
        ctx.moveTo(px - ds.cap, top); ctx.lineTo(px + ds.cap, top);
        ctx.moveTo(px - ds.cap, bot); ctx.lineTo(px + ds.cap, bot);
      }
    });
    ctx.stroke();
    ctx.restore();
  }
};

// matplotlib-like legend box in the upper right corner of the axes
const boxLegend = {
  id: 'boxLegend',
  afterDraw(chart, args, opts) {
    const items = opts.items || [];
    if (!items.length) return;
    const { ctx, chartArea: a } = chart;
    ctx.save();
    ctx.font = '41px "DejaVu Sans"';
    const textW = Math.max(...items.map(it => ctx.measureText(it.label).width));
    const w = 134 + textW + 20;
    const h = 73 + (items.length - 1) * 61;
    const right = a.right - 17, left = right - w, top = a.top + 22;
    ctx.beginPath();
    if (ctx.roundRect) ctx.roundRect(left, top, w, h, 9); else ctx.rect(left, top, w, h);
    ctx.fillStyle = 'rgba(255,255,255,0.85)';
    ctx.fill();
    ctx.strokeStyle = '#cccccc';
    ctx.lineWidth = 2.5;
    ctx.stroke();
    items.forEach((it, i) => {
      const cy = top + 33 + i * 61;
      ctx.save();
      if (it.kind === 'dash') {
        ctx.strokeStyle = '#ff0000';
        ctx.lineWidth = 10;
        ctx.setLineDash([46, 20]);
        ctx.beginPath();
        ctx.moveTo(left + 16, cy); ctx.lineTo(left + 101, cy);
        ctx.stroke();
      } else {
        const bx = left + 58;
        ctx.strokeStyle = it.color;
        ctx.lineWidth = it.width;
        ctx.beginPath();
        ctx.moveTo(bx, cy - 22); ctx.lineTo(bx, cy + 22);
        ctx.moveTo(bx - it.cap, cy - 22); ctx.lineTo(bx + it.cap, cy - 22);
        ctx.moveTo(bx - it.cap, cy + 22); ctx.lineTo(bx + it.cap, cy + 22);
        ctx.stroke();
        if (it.dot) {
          ctx.fillStyle = it.color;
          ctx.beginPath();
          ctx.arc(bx, cy, it.dot, 0, Math.PI * 2);
          ctx.fill();
        }
      }
      ctx.restore();
      ctx.fillStyle = '#000';
      ctx.textBaseline = 'middle';
      ctx.textAlign = 'left';
      ctx.fillText(it.label, left + 134, cy + 2);
    });
    ctx.restore();
  }
};

function trendSet() {
  return {
    label: 'Long-term Trend QVD1',
    data: pts(trendX, trendY),
    showLine: true,
    borderColor: '#ff0000',
    borderWidth: 10,
    borderDash: [42, 18],
    pointRadius: 0,
    cubicInterpolationMode: 'monotone',
    order: 3
  };
}

function barSet(label, xs, ys, es, color, width, cap, radius) {
  return {
    label: label,
    data: pts(xs, ys),
    errors: es,
    barColor: color,
    barWidth: width,
    cap: cap,
    pointRadius: radius,
    backgroundColor: color,
    borderWidth: 0,
    order: 2
  };
}

function makeChart(id, cfg) {
  return new Chart(document.getElementById(id), {
    type: 'scatter',
    data: { datasets: cfg.datasets },
    plugins: [gridFrame, errorBars, boxLegend],
    options: {
      responsive: false,
      animation: false,
      devicePixelRatio: 1,
      events: [],
      layout: { padding: { left: 0, right: 47, top: cfg.top, bottom: 0 } },
      plugins: {
        legend: { display: false },
        tooltip: { enabled: false },
        boxLegend: { items: cfg.legend }
      },
      scales: {
        x: {
          type: 'linear',
          min: X_MIN,
          max: X_MAX,
          afterBuildTicks: s => { s.ticks = xTicks.map(v => ({ value: v })); },
          afterFit: s => { s.height = 140; },
          grid: { drawOnChartArea: false, drawTicks: true, tickLength: 13, tickWidth: 3, tickColor: '#333', color: '#333' },
          border: { display: false },
          ticks: { autoSkip: false, maxRotation: 0, padding: 8, font: { size: 41 }, callback: (v, i) => xTickLabels[i] },
          title: { display: true, text: 'Orbit number', font: { size: 41 }, padding: { top: 0, bottom: 13 } }
        },
        y: {
          type: 'linear',
          min: cfg.yTicks[0],
          max: cfg.yTicks[cfg.yTicks.length - 1],
          afterBuildTicks: s => { s.ticks = cfg.yTicks.map(v => ({ value: v })); },
          afterFit: s => { s.width = cfg.left; },
          grid: { drawOnChartArea: false, drawTicks: true, tickLength: 13, tickWidth: 3, tickColor: '#333', color: '#333' },
          border: { display: false },
          ticks: { autoSkip: false, padding: 9, font: { size: 41 }, callback: v => v.toFixed(3) },
          title: { display: true, text: cfg.yTitle, font: { size: 38 }, padding: { top: cfg.titlePad, bottom: 0 } }
        }
      }
    }
  });
}

const irrLegend = [
  { label: 'Long-term Trend QVD1', kind: 'dash' },
  { label: 'Solar Irradiance pre-19258', kind: 'bar', color: '#808080', width: 4.5, cap: 4 },
  { label: 'Solar Irradiance post-19258', kind: 'bar', color: '#008000', width: 4.5, cap: 4 }
];

makeChart('chartA', {
  top: 153, left: 250, titlePad: 40,
  yTicks: irrTicks,
  yTitle: 'Normalized Calibrated Irradiance (Detector Median)',
  legend: irrLegend,
  datasets: [
    trendSet(),
    barSet('Solar Irradiance pre-19258', aPreX, aPreY, aPreE, '#808080', 4.5, 3.5, 2.5),
    barSet('Solar Irradiance post-19258', aPostX, aPostY, aPostE, '#008000', 4.5, 3.5, 2.5),
    { label: 'orbit 22980', data: pts(aMarkX, aMarkY), pointRadius: 17, backgroundColor: '#000', borderWidth: 0, order: 0 }
  ]
});

makeChart('chartB', {
  top: 154, left: 244, titlePad: 34,
  yTicks: irrTicks,
  yTitle: 'Normalized Calibrated Irradiance (Detector Median)',
  legend: irrLegend,
  datasets: [
    trendSet(),
    barSet('Solar Irradiance pre-19258', bPreX, bPreY, bPreE, '#808080', 4.5, 3.5, 2.5),
    barSet('Solar Irradiance post-19258', bPostX, bPostY, bPostE, '#008000', 4.5, 3.5, 2.5)
  ]
});

makeChart('chartC', {
  top: 150, left: 244, titlePad: 34,
  yTicks: wlsTicks,
  yTitle: 'Normalized WLS response (Detector Median)',
  legend: [
    { label: 'Long-term Trend QVD1', kind: 'dash' },
    { label: 'WLS signal', kind: 'bar', color: '#000000', width: 4, cap: 7, dot: 5 }
  ],
  datasets: [
    trendSet(),
    barSet('WLS signal', wlsX, wlsY, wlsE, '#000000', 4, 7, 5)
  ]
});
</script>
</body>
</html>
